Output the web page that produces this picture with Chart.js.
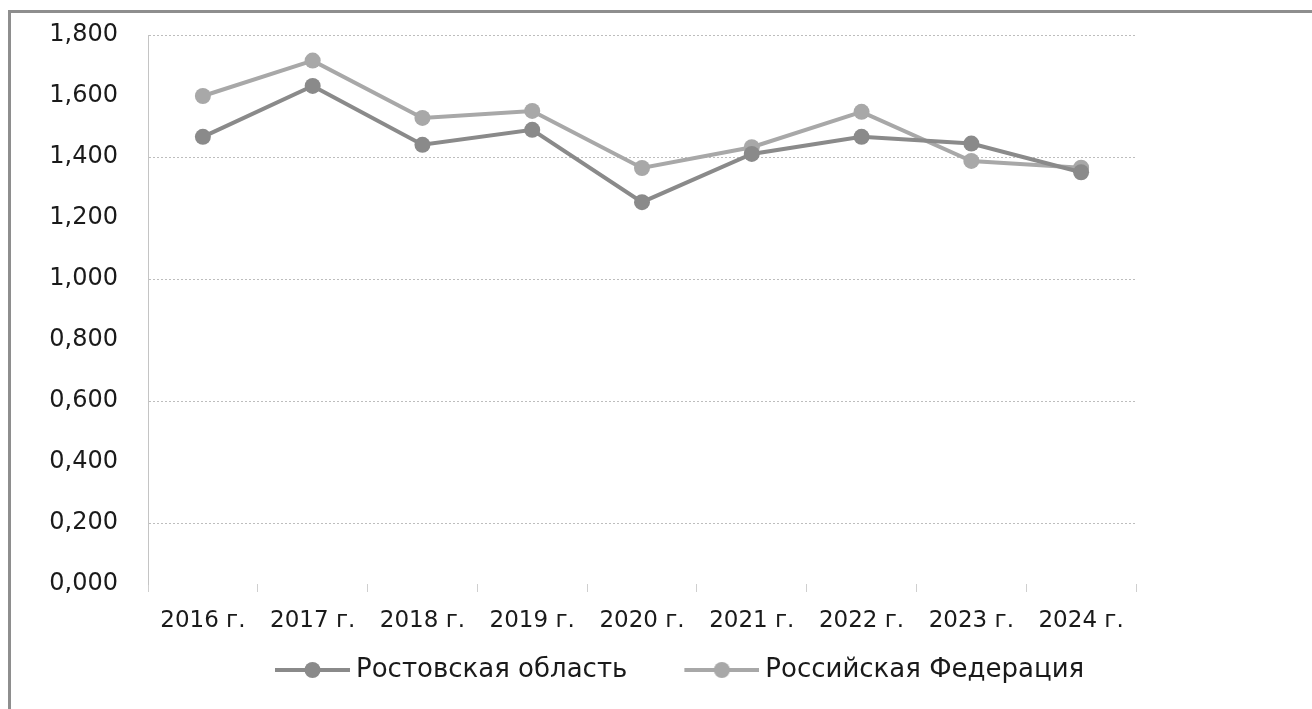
<!DOCTYPE html>
<html>
<head>
<meta charset="utf-8">
<script src="https://cdn.jsdelivr.net/npm/chart.js@4"></script>
<style>
  html, body { margin: 0; padding: 0; background: #fff; }
  #frame {
    position: absolute; left: 8px; top: 10px; width: 1304px; height: 699px;
    border-left: 3px solid #8e8e8e; border-top: 3px solid #8e8e8e;
  }
  #wrap { position: absolute; left: 0; top: 0; width: 1312px; height: 709px; }
</style>
</head>
<body>
<div id="frame"></div>
<div id="wrap"><canvas id="trend" width="1312" height="709"></canvas></div>
<script>
// data
const years = ['2016 г.', '2017 г.', '2018 г.', '2019 г.', '2020 г.', '2021 г.', '2022 г.', '2023 г.', '2024 г.'];
const rostov = [1.466, 1.633, 1.440, 1.489, 1.252, 1.410, 1.466, 1.444, 1.350];
const russia = [1.600, 1.716, 1.528, 1.551, 1.364, 1.432, 1.548, 1.387, 1.365];
const seriesNames = ['Ростовская область', 'Российская Федерация'];
const seriesColors = ['#8a8a8a', '#a8a8a8'];

const BOX = 115;          // legend box width (marker sits at its right end)
const LEGEND_START = 275; // where the first legend marker should begin

// legend marker: line with a dot, sitting at the right end of a wide box
function legendMarker(color) {
  let c = document.createElement('canvas');
  c.width = BOX + 14;
  c.height = 20;
  let g = c.getContext('2d');
  let x0 = c.width - 75, x1 = c.width;
  g.strokeStyle = color;
  g.lineWidth = 4;
  g.beginPath();
  g.moveTo(x0, 10);
  g.lineTo(x1, 10);
  g.stroke();
  g.fillStyle = color;
  g.beginPath();
  g.arc((x0 + x1) / 2, 10, 8, 0, Math.PI * 2);
  g.fill();
  return c;
}
const markers = seriesColors.map(legendMarker);

// slide the legend row so it sits where the original one does
const legendShift = {
  id: 'legendShift',
  afterLayout(chart) {
    let lg = chart.legend;
    if (!lg || !lg.lineWidths) return;
    let pad = lg.options.labels.padding;
    let rowStart = (lg.left + pad + lg.right - lg.lineWidths[0]) / 2;
    let s = LEGEND_START - (rowStart + BOX - 68);
    lg.left += s;
    lg.right += s;
  }
};

let ctx = document.getElementById('trend').getContext('2d');
let chart = new Chart(ctx, {
  type: 'line',
  data: {
    labels: years,
    datasets: [rostov, russia].map((vals, i) => ({
      label: seriesNames[i],
      data: vals,
      borderColor: seriesColors[i],
      backgroundColor: seriesColors[i],
      pointBackgroundColor: seriesColors[i],
      borderWidth: 4,
      pointRadius: 8,
      pointBorderWidth: 0,
      pointHoverRadius: 8,
      tension: 0
    }))
  },
  plugins: [legendShift],
  options: {
    responsive: false,
    animation: false,
    layout: { autoPadding: false, padding: { left: 0, right: 176, top: 35, bottom: 16 } },
    plugins: {
      tooltip: { enabled: false },
      legend: {
        display: true,
        position: 'bottom',
        labels: {
          usePointStyle: true,
          pointStyleWidth: BOX,
          padding: 10,
          color: '#1a1a1a',
          font: { family: 'DejaVu Sans', size: 26 },
          generateLabels(chart) {
            let items = Chart.defaults.plugins.legend.labels.generateLabels(chart);
            items.forEach((it, i) => { it.pointStyle = markers[i]; });
            return items;
          }
        }
      }
    },
    scales: {
      x: {
        offset: true,
        grid: {
          offset: true,
          drawOnChartArea: false,
          drawTicks: true,
          tickLength: 8,
          tickColor: '#cfcfcf'
        },
        border: { display: false },
        ticks: {
          autoSkip: false,
          maxRotation: 0,
          padding: 15,
          color: '#1a1a1a',
          font: { family: 'DejaVu Sans', size: 23 }
        },
        afterFit(scale) { scale.height = 63; }
      },
      y: {
        min: 0,
        max: 1.8,
        ticks: {
          stepSize: 0.2,
          padding: 0,
          color: '#1a1a1a',
          font: { family: 'DejaVu Sans', size: 24 },
          callback: (v) => Number(v).toFixed(3).replace('.', ',')
        },
        grid: {
          drawTicks: true,
          tickLength: 30,
          tickColor: 'rgba(0,0,0,0)',
          color: (c) => (c.index % 2 === 1 ? '#bdbdbd' : 'rgba(0,0,0,0)'),
          lineWidth: 1
        },
        border: { display: true, color: '#c4c4c4', dash: [2, 2] },
        afterFit(scale) { scale.width = 148; }
      }
    }
  }
});
</script>
</body>
</html>
